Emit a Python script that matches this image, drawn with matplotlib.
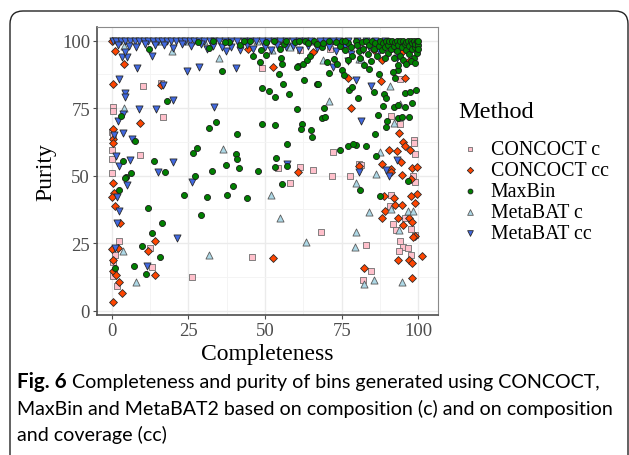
import matplotlib
matplotlib.use("Agg")
import matplotlib.pyplot as plt
from matplotlib.patches import FancyBboxPatch

# Punti (Completeness, Purity)
concoct_c_x = [10.1, 16.0, 16.8, 0.5, 0.5, 0.2, 0.2, 0.2, 9.2, 0.2, 48.9, 61.4, 54.1, 65.6, 61.3,
               2.5, 12.5, 13.0, 0.3, 1.8, 26.1, 45.7, 58.2, 68.2, 71.7, 77.6, 91.1, 90.6, 95.5, 91.7,
               92.8, 97.7, 94.1, 95.0, 96.6, 93.6, 97.7, 82.9, 84.5, 82.1, 98.2, 98.8, 98.8, 94.0,
               91.0, 98.7, 98.5, 98.8, 93.9, 80.7, 72.3, 81.2, 71.2, 0.5, 1.0, 0.3]
concoct_c_y = [83.3, 84.5, 71.6, 75.3, 73.8, 66.0, 59.6, 56.0, 57.7, 51.0, 89.9, 96.7, 53.0, 52.2, 53.4,
               25.7, 23.2, 16.3, 13.0, 9.3, 12.4, 19.8, 47.3, 29.0, 50.0, 50.0, 42.8, 38.6, 34.2, 32.1,
               30.0, 30.2, 25.9, 23.5, 23.1, 22.2, 20.6, 24.3, 14.8, 11.5, 49.8, 47.5, 28.0, 85.8,
               72.2, 63.3, 62.1, 58.0, 69.0, 54.2, 58.7, 54.1, 96.9, 18.0, 20.5, 65.0]

concoct_cc_x = [0.0, 1.1, 4.0, 0.3, 16.1, 9.2, 0.3, 0.5, 0.3, 44.4, 52.5, 60.9, 65.8, 0.3, 0.9,
                0.0, 1.1, 2.7, 2.0, 0.0, 0.5, 0.3, 1.3, 2.4, 3.5, 0.3, 14.1, 11.7, 14.1, 52.7,
                88.2, 96.9, 95.5, 87.8, 76.9, 78.0, 93.6, 95.0, 95.5, 97.4, 93.0, 90.4, 94.4, 88.2,
                91.1, 98.0, 99.6, 80.7, 95.0, 85.6, 91.1, 94.7, 97.7, 99.7, 97.7, 92.2, 92.5, 94.7,
                98.8, 89.1, 88.3, 93.2, 97.1, 97.8, 94.9, 98.8, 98.2, 101.2, 93.3, 96.9, 98.0, 82.3,
                97.8, 88.8, 99.0, 92.0, 75.5]
concoct_cc_y = [99.8, 96.3, 91.4, 84.0, 83.6, 69.5, 67.3, 63.5, 62.0, 96.9, 90.1, 51.3, 95.9, 47.3, 43.6,
                42.0, 38.9, 32.5, 23.2, 22.8, 18.9, 14.8, 13.2, 10.5, 6.4, 3.1, 25.7, 22.0, 13.3, 19.4,
                92.7, 92.3, 86.3, 85.1, 86.3, 75.2, 65.8, 62.5, 60.9, 59.4, 59.1, 59.6, 55.1, 54.2,
                52.6, 53.0, 53.2, 53.5, 96.2, 96.7, 51.5, 50.2, 48.8, 43.2, 42.6, 41.6, 39.1, 39.1,
                39.9, 37.0, 34.3, 34.2, 34.2, 32.7, 31.7, 27.8, 27.2, 20.1, 18.9, 18.9, 17.7, 15.7,
                12.0, 42.6, 97.5, 98.5, 97.8]

maxbin_x = [12.3, 28.0, 31.7, 38.1, 35.9, 41.8, 48.6, 50.2, 50.4, 46.2, 48.4, 54.4, 55.8, 48.9, 51.2,
            53.4, 57.8, 49.1, 53.4, 60.5, 62.0, 61.7, 64.9, 65.3, 57.3, 62.7, 66.9, 60.8, 62.3, 63.6,
            64.5, 54.9, 55.2, 55.6, 56.2, 59.8, 68.5, 31.8, 34.0, 40.8, 3.0, 7.5, 3.6, 13.8, 17.5,
            6.4, 4.6, 27.2, 26.4, 27.9, 32.6, 37.4, 40.5, 40.8, 41.5, 47.7, 53.4, 53.6, 57.3, 4.4,
            2.4, 11.9, 16.3, 13.0, 9.8, 15.8, 7.4, 11.1, 1.1, 23.7, 29.0, 31.2, 37.5, 39.7, 44.2,
            55.4, 69.3, 68.5, 69.7, 67.2, 60.3, 17.9,
            70.8, 72.5, 70.3, 73.6, 75.2, 75.8, 77.4, 78.5, 80.2, 82.3, 84.0, 87.3, 85.6, 88.9,
            89.5, 88.4, 91.9, 93.3, 95.5, 95.8, 97.4, 99.3, 93.3, 91.7, 92.5, 93.3, 98.0, 86.8,
            89.7, 93.3, 94.7, 97.1, 89.5, 86.0, 79.6, 82.9, 76.9, 78.7, 74.3, 86.2, 80.9, 87.4,
            96.6,
            73.0, 74.5, 75.0, 76.0, 77.0, 78.0, 78.5, 79.5, 80.0, 80.5, 81.5, 82.0, 83.0, 83.5,
            84.0, 85.0, 85.5, 86.0, 86.5, 87.0, 87.5, 88.0, 88.5, 89.0, 89.5, 90.0, 90.0, 90.5,
            91.0, 91.5, 92.0, 92.0, 92.5, 93.0, 93.0, 93.5, 94.0, 94.0, 94.5, 95.0, 95.0, 95.5,
            96.0, 96.0, 96.5, 97.0, 97.0, 97.5, 98.0, 98.0, 98.5, 98.5, 99.0, 99.0, 99.5, 99.5,
            100.0, 100.0, 100.0, 97.5, 96.0, 99.0, 89.0, 84.5, 81.0, 77.0, 76.0, 71.0, 69.0, 66.0,
            63.0, 33.0, 37.0, 43.0, 45.0, 53.0, 57.0, 61.0, 64.0, 67.0]
maxbin_y = [96.9, 99.4, 97.2, 99.6, 88.7, 98.5, 96.4, 99.6, 94.7, 94.2, 92.0, 87.7, 83.8, 82.4, 81.4,
            79.3, 80.1, 69.1, 68.9, 74.6, 69.1, 67.3, 66.9, 64.5, 61.7, 85.4, 84.0, 90.7, 91.4, 93.0,
            94.5, 96.9, 93.7, 91.4, 98.7, 99.5, 97.7, 67.7, 69.8, 65.4, 72.2, 62.7, 55.3, 55.4, 51.4,
            51.1, 49.5, 50.0, 58.4, 60.4, 51.7, 54.0, 58.0, 56.2, 52.8, 51.7, 53.3, 56.5, 53.7, 49.0,
            44.6, 38.0, 32.5, 28.8, 23.9, 19.8, 16.4, 13.5, 15.9, 43.0, 35.6, 42.2, 42.9, 46.1, 41.7,
            46.8, 75.2, 71.5, 71.7, 83.8, 90.3, 77.5,
            88.0, 93.3, 92.1, 91.2, 89.0, 87.2, 81.6, 82.8, 78.8, 91.1, 89.6, 87.8, 81.0, 80.4,
            78.8, 75.8, 75.4, 76.0, 75.4, 80.7, 81.0, 81.9, 89.0, 88.4, 86.3, 90.9, 76.9, 72.6,
            70.1, 71.5, 71.7, 71.7, 68.0, 65.3, 61.2, 60.9, 60.9, 61.9, 59.4, 57.2, 44.8, 42.4,
            48.1,
            99.5, 98.0, 100.0, 96.5, 99.0, 97.5, 94.5, 100.0, 98.5, 96.0, 99.5, 97.0, 99.8, 95.0,
            98.5, 100.0, 97.0, 99.0, 94.5, 98.0, 100.0, 96.5, 99.0, 97.5, 100.0, 95.5, 98.5, 99.8,
            97.0, 100.0, 93.5, 98.0, 99.5, 96.0, 100.0, 98.5, 94.5, 99.8, 97.5, 100.0, 93.0, 98.8,
            96.5, 99.5, 100.0, 95.0, 98.0, 99.8, 96.8, 99.0, 93.5, 100.0, 97.5, 98.8, 99.8, 95.5,
            98.5, 100.0, 96.8, 92.3, 91.5, 91.8, 93.5, 92.5, 93.5, 93.0, 99.8, 100.0, 99.0, 100.0,
            99.8, 100.0, 99.5, 99.8, 100.0, 100.0, 99.8, 100.0, 99.0, 98.8]

metabat_c_x = [4.1, 19.8, 16.1, 4.0, 35.1, 36.2, 65.2, 3.6, 7.8, 31.8, 51.9, 54.9, 63.3, 79.6, 86.2,
               84.0, 79.6, 79.4, 82.3, 85.6, 94.7, 96.6, 98.2, 91.1, 93.6, 90.6, 93.9, 92.2, 87.5,
               80.7, 70.8, 69.0, 81.2, 52.3, 47.5, 30.0, 24.0, 58.0, 75.0, 85.0]
metabat_c_y = [98.1, 96.3, 99.8, 75.1, 93.5, 59.9, 100.0, 22.2, 10.5, 20.6, 42.9, 34.3, 25.6, 47.3, 50.6,
               36.4, 29.3, 23.5, 9.9, 11.5, 10.7, 37.0, 37.0, 37.8, 30.0, 83.1, 76.7, 69.5, 58.8,
               93.3, 77.7, 92.9, 93.2, 96.5, 99.8, 99.8, 100.0, 97.5, 99.5, 98.0]

metabat_cc_x = [2.5, 24.7, 28.6, 40.6, 37.4, 33.4, 14.4, 9.0, 4.3, 4.5, 2.0, 3.6, 3.8, 0.9, 6.5,
                20.1, 6.1, 1.4, 2.5, 15.0, 57.1, 4.9, 1.6, 2.5, 1.6, 1.1, 11.4, 21.2, 26.1, 80.8,
                90.5, 81.4, 84.7, 79.8, 89.6, 93.0, 93.0, 72.2, 77.2, 13.0, 16.6, 20.0, 3.3, 4.9,
                4.3, 8.2,
                0.5, 1.5, 3.0, 4.5, 6.0, 7.5, 9.0, 10.5, 12.0, 13.5, 15.0, 16.5, 18.0, 19.5, 21.0,
                22.5, 24.0, 25.5, 27.0, 28.5, 30.0, 32.0, 33.5, 35.0, 37.0, 39.0, 41.0, 43.0, 45.0,
                47.0, 49.0, 51.0, 53.0, 55.0, 57.0, 59.0, 61.0, 63.0, 65.0, 68.0, 70.0, 72.0, 74.0,
                77.0, 80.0, 83.0, 86.0, 89.0,
                2.0, 5.5, 8.0, 11.0, 14.0, 17.0, 20.0, 23.0, 26.0, 29.0, 31.0, 33.0, 36.0, 39.0,
                42.0, 44.0, 46.0, 50.0, 52.0, 54.0, 57.0, 59.0, 61.0, 64.0, 67.0, 71.0, 73.0, 76.0,
                78.0, 82.0, 84.0, 87.0, 92.0, 95.0]
metabat_cc_y = [85.7, 88.8, 90.4, 89.9, 96.1, 75.3, 74.7, 74.7, 80.5, 79.0, 70.4, 72.8, 65.7, 65.2, 63.6,
                55.2, 55.8, 57.2, 53.7, 51.3, 54.3, 46.7, 42.0, 37.0, 32.4, 23.1, 16.4, 26.9, 47.6, 51.5,
                50.0, 70.3, 83.1, 85.3, 52.0, 55.7, 93.7, 90.3, 92.6, 94.4, 83.7, 78.0, 93.8, 94.0,
                95.7, 89.9,
                99.8, 99.8, 99.8, 99.8, 99.8, 99.8, 99.8, 99.8, 99.8, 99.8, 99.8, 99.8, 99.8, 99.8, 99.8,
                99.8, 99.8, 99.8, 99.8, 99.8, 99.8, 99.8, 99.8, 99.8, 99.8, 99.8, 99.8, 99.8, 99.8,
                99.8, 99.8, 99.8, 99.8, 99.8, 99.8, 99.8, 99.8, 99.8, 99.8, 99.8, 99.8, 99.8, 99.8,
                99.8, 99.8, 99.8, 99.8, 99.8,
                98.5, 98.0, 97.8, 98.8, 98.3, 98.5, 97.2, 98.6, 98.0, 98.8, 96.8, 98.0, 97.5, 97.8,
                96.7, 98.5, 97.0, 97.8, 96.5, 98.5, 97.5, 98.2, 96.5, 98.0, 97.3, 97.5, 96.2, 98.0,
                95.0, 96.5, 97.8, 96.0, 97.0, 98.5]

xticks = [0, 25, 50, 75, 100]
yticks = [0, 25, 50, 75, 100]

serif = "Liberation Serif"
W, H = 629, 456

fig = plt.figure(figsize=(W / 100, H / 100), dpi=100)
fig.patch.set_facecolor("white")

# cornice arrotondata della figura (coordinate in pixel)
box = FancyBboxPatch((10, -40), 618, 484, boxstyle="round,pad=0,rounding_size=13",
                     transform=None, fill=False, edgecolor="#222222", linewidth=1.0)
fig.add_artist(box)

ax = fig.add_axes([97 / W, 1 - 316 / H, (438 - 97) / W, (316 - 28) / H])
ax.set_xlim(-4.79, 106.4)
ax.set_ylim(-1.6, 105.07)

ax.scatter(concoct_c_x, concoct_c_y, marker="s", c="#FFC0CB", edgecolors="#6e6e6e",
           label="CONCOCT c", s=18, linewidths=0.6, zorder=3)
ax.scatter(concoct_cc_x, concoct_cc_y, marker="D", c="#FF4500", edgecolors="#2a2a2a",
           label="CONCOCT cc", s=16, linewidths=0.6, zorder=3)
ax.scatter(metabat_c_x, metabat_c_y, marker="^", c="#ADD8E6", edgecolors="#5a5a5a",
           label="MetaBAT c", s=26, linewidths=0.6, zorder=3)
ax.scatter(metabat_cc_x, metabat_cc_y, marker="v", c="#4169E1", edgecolors="#2a2a2a",
           label="MetaBAT cc", s=26, linewidths=0.6, zorder=3)
ax.scatter(maxbin_x, maxbin_y, marker="o", c="#008000", edgecolors="#1a1a1a",
           label="MaxBin", s=19, linewidths=0.6, zorder=3)

ax.set_xticks(xticks)
ax.set_yticks(yticks)
ax.set_xticks([12.5, 37.5, 62.5, 87.5], minor=True)
ax.set_yticks([12.5, 37.5, 62.5, 87.5], minor=True)
ax.grid(True, which="major", color="#EBEBEB", linewidth=1.0, zorder=0)
ax.grid(True, which="minor", color="#F3F3F3", linewidth=0.6, zorder=0)
ax.set_axisbelow(True)
ax.tick_params(which="minor", length=0)
ax.tick_params(which="major", length=3, width=0.8, color="#4d4d4d", pad=2,
               labelsize=13.5, labelcolor="#4d4d4d")
for lab in ax.get_xticklabels() + ax.get_yticklabels():
    lab.set_fontfamily(serif)
for side in ["top", "right"]:
    ax.spines[side].set_color("#8a8a8a")
    ax.spines[side].set_linewidth(0.8)
for side in ["left", "bottom"]:
    ax.spines[side].set_color("#4d4d4d")
    ax.spines[side].set_linewidth(1.2)

ax.set_xlabel("Completeness", family=serif, fontsize=17, labelpad=3)
ax.set_ylabel("Purity", family=serif, fontsize=17, labelpad=4)

# legenda nell'ordine del grafico originale
h, l = ax.get_legend_handles_labels()
order = ["CONCOCT c", "CONCOCT cc", "MaxBin", "MetaBAT c", "MetaBAT cc"]
hh = [h[l.index(o)] for o in order]
fig.text(458 / W, 1 - 113 / H, "Method", family=serif, fontsize=17.5, va="center", ha="left")
leg = fig.legend(hh, order, loc="upper left", bbox_to_anchor=(458 / W, 1 - 141 / H),
                 frameon=False, prop={"family": serif, "size": 14.3},
                 markerscale=0.8, labelspacing=0.1, handletextpad=0.45,
                 handlelength=1.2, borderaxespad=0, borderpad=0)

# didascalia
cap_font = "Lato"
cap_size = 14
fig.canvas.draw()
probe = fig.text(0, 0, "MaxBin and MetaBAT2 based on composition (c) and on composition",
                 family=cap_font, fontsize=cap_size)
rend = fig.canvas.get_renderer()
wpx = probe.get_window_extent(rend).width
probe.remove()
cap_size = cap_size * 599 / wpx

x0 = 17 / W
fig.text(x0, 1 - 388 / H, "Fig. 6", family=cap_font, fontsize=cap_size * 1.05,
         weight="bold", va="baseline")
fig.text(600 / W, 1 - 388 / H, "Completeness and purity of bins generated using CONCOCT,",
         family=cap_font, fontsize=cap_size, va="baseline", ha="right")
fig.text(x0, 1 - 415 / H, "MaxBin and MetaBAT2 based on composition (c) and on composition",
         family=cap_font, fontsize=cap_size, va="baseline")
fig.text(x0, 1 - 441 / H, "and coverage (cc)", family=cap_font, fontsize=cap_size,
         va="baseline")

fig.savefig("out.png", dpi=100)
